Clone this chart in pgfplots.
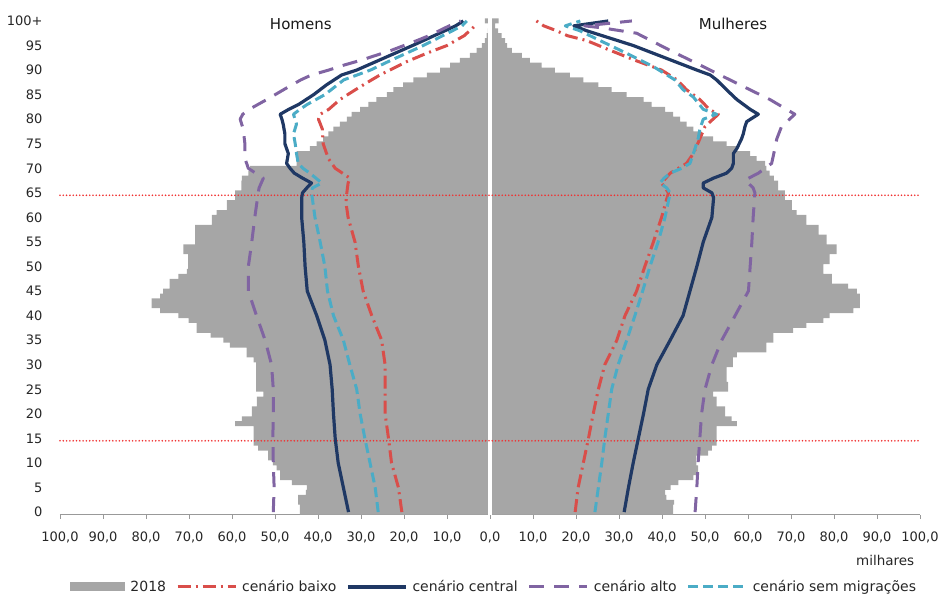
\documentclass[border=0pt]{standalone}
\usepackage{pgfplots}
\pgfplotsset{compat=1.18}
\usepackage{pgfplotstable}
\usepackage{fontspec}
\setmainfont{DejaVu Sans}
\definecolor{bargray}{HTML}{A6A6A6}
\definecolor{cbaixo}{HTML}{D94E4A}
\definecolor{ccentral}{HTML}{1F3864}
\definecolor{calto}{HTML}{8064A2}
\definecolor{csem}{HTML}{4BACC6}
\definecolor{refred}{HTML}{F03030}

\pgfplotstableread{
age m w
0 -44.2 42.6
1 -44.2 42.6
2 -44.6 42.8
3 -44.6 41.0
4 -42.8 40.7
5 -42.6 42.0
6 -46.1 43.8
7 -48.8 47.3
8 -48.8 48.4
9 -49.6 48.4
10 -50.5 48.0
11 -51.6 48.0
12 -51.6 50.7
13 -53.9 51.6
14 -55.0 52.7
15 -55.0 52.7
16 -55.0 52.7
17 -55.0 52.7
18 -59.3 57.4
19 -57.7 56.2
20 -55.4 54.7
21 -55.4 54.7
22 -54.2 52.7
23 -54.2 52.7
24 -52.7 51.9
25 -54.4 55.4
26 -54.4 55.4
27 -54.4 55.0
28 -54.4 55.0
29 -54.4 55.0
30 -54.4 56.5
31 -55.0 56.5
32 -56.6 57.4
33 -56.6 64.3
34 -60.5 64.3
35 -62.0 65.9
36 -65.0 65.9
37 -68.2 70.5
38 -68.2 73.6
39 -70.1 77.5
40 -72.5 79.0
41 -76.7 84.5
42 -78.7 86.0
43 -78.7 86.0
44 -76.7 86.0
45 -76.0 85.3
46 -74.5 83.3
47 -74.5 79.5
48 -72.5 79.5
49 -70.5 77.5
50 -70.2 77.5
51 -70.2 79.0
52 -70.2 79.0
53 -71.3 80.6
54 -71.3 80.6
55 -68.6 78.3
56 -68.6 78.3
57 -68.6 76.4
58 -68.6 76.4
59 -64.7 73.6
60 -64.7 73.6
61 -63.6 71.3
62 -61.2 70.2
63 -61.2 70.2
64 -59.3 68.6
65 -59.3 68.6
66 -57.8 67.0
67 -57.8 67.0
68 -57.7 66.0
69 -56.2 65.0
70 -55.8 64.3
71 -45.0 64.0
72 -45.0 62.0
73 -45.0 60.5
74 -41.9 57.4
75 -40.3 55.0
76 -38.8 51.9
77 -37.6 49.2
78 -36.4 47.3
79 -34.9 45.7
80 -33.3 44.2
81 -32.2 42.6
82 -30.2 40.7
83 -28.3 37.6
84 -26.4 35.7
85 -24.0 31.8
86 -22.5 28.3
87 -20.2 25.2
88 -17.8 21.7
89 -14.7 18.6
90 -11.6 15.1
91 -9.3 12.0
92 -7.0 9.3
93 -4.7 7.4
94 -3.1 5.1
95 -1.9 4.0
96 -1.2 3.5
97 -0.8 2.7
98 -0.5 1.9
99 -0.3 1.2
100 -1.2 2.0
}\pyr

\begin{document}
\begin{tikzpicture}
\path[use as bounding box] (-60pt,-82.5pt) rectangle (882pt,514.5pt);
\begin{axis}[
  at={(0pt,0pt)}, anchor=south west,
  width=860pt, height=496pt, scale only axis,
  xmin=-100, xmax=100, ymin=-0.5, ymax=100.5,
  clip=false,
  axis lines*=left,
  y axis line style={draw=none},
  x axis line style={draw=black!40, line width=0.8pt},
  xtick={-100,-90,...,100},
  xticklabels={{100,0},{90,0},{80,0},{70,0},{60,0},{50,0},{40,0},{30,0},{20,0},{10,0},{0,0},{10,0},{20,0},{30,0},{40,0},{50,0},{60,0},{70,0},{80,0},{90,0},{100,0}},
  ytick={0,5,...,100},
  yticklabels={0,5,10,15,20,25,30,35,40,45,50,55,60,65,70,75,80,85,90,95,100+},
  ytick style={draw=none},
  xtick style={draw=black!40, line width=0.8pt},
  tick align=outside,
  major tick length=4pt,
  xticklabel style={font=\fontsize{13}{15}\selectfont, text=black!85, yshift=-10pt},
  yticklabel style={font=\fontsize{13}{15}\selectfont, text=black!85, xshift=-10pt},
  legend columns=5,
  legend style={draw=none, fill=none, at={(0.505,-0.146)}, anchor=center,
    font=\fontsize{14}{16}\selectfont, text=black!85,
    /tikz/every even column/.append style={column sep=8pt}},
  legend image code/.code={\draw[#1] (0pt,0pt) -- (58pt,0pt); \path (61pt,0pt);},
]
\addplot[xbar, bar width=1, bar shift=0pt, draw=none, fill=bargray,
  legend image code/.code={\fill[bargray] (0pt,-4.5pt) rectangle (55pt,4.5pt); \path (58pt,0pt);}]
  table[x=m, y=age]{\pyr};
\addlegendentry{2018}
\addplot[xbar, bar width=1, bar shift=0pt, draw=none, fill=bargray, forget plot]
  table[x=w, y=age]{\pyr};
\addplot[white, line width=3.5pt, forget plot] coordinates {(0,-0.5) (0,100.7)};
\addplot[refred, line width=1.8pt, line cap=round, dash pattern=on 0pt off 3.3pt, forget plot]
  coordinates {(-100,64.5) (100,64.5)};
\addplot[refred, line width=1.8pt, line cap=round, dash pattern=on 0pt off 3.3pt, forget plot]
  coordinates {(-100,14.5) (100,14.5)};

% cenario baixo
\addplot[cbaixo, line width=3pt, line join=round, dash pattern=on 13pt off 5pt on 2pt off 5pt]
  coordinates {(-20.5,0) (-21.3,5) (-22.9,10) (-23.6,15) (-24.4,20) (-24.4,25) (-24.4,30)
  (-25.2,35) (-27.5,40) (-29.5,45) (-30.6,50) (-31.4,55) (-33.0,60) (-33.5,63) (-33.3,65)
  (-33.0,67) (-32.6,68) (-36.0,70) (-37.6,72) (-38.8,75) (-39.0,78) (-39.9,80) (-39.5,81)
  (-37.5,82) (-34.9,84) (-30.2,86.6) (-25.6,89) (-19.4,91.7) (-14.5,93.5) (-10.0,95) (-6.0,97) (-3.5,99)};
\addlegendentry{cenário baixo}
\addplot[cbaixo, line width=3pt, line join=round, dash pattern=on 13pt off 5pt on 2pt off 5pt, forget plot]
  coordinates {(19.8,0) (20.5,5) (21.7,10) (22.9,15) (24.0,20) (25.2,25) (26.7,30) (29.5,35)
  (31.4,40) (34.1,45) (36.0,50) (38.0,55) (39.9,60) (41.5,65) (39.9,67) (41.9,69) (45.7,71)
  (47.3,73) (48.8,76) (50.0,78.5) (53.1,81) (51.0,82) (48.8,84) (45.7,86) (43.5,88) (39.9,90)
  (33.7,92) (28.0,94) (22.5,96) (18.0,97) (15.5,98) (12.5,99) (10.8,100)};

% cenario central
\addplot[ccentral, line width=3.2pt, line join=round]
  coordinates {(-32.9,0) (-34.1,5) (-35.3,10) (-36.0,15) (-36.4,20) (-36.7,25) (-37.2,30)
  (-38.4,35) (-40.3,40) (-42.5,45) (-43.0,50) (-43.3,55) (-43.8,60) (-43.8,64) (-43.6,65)
  (-42.6,66) (-41.5,67) (-43.6,68) (-45.5,69) (-46.5,70) (-47.3,71) (-46.9,73) (-47.7,75)
  (-47.7,77) (-48.1,79) (-48.4,80) (-48.8,81) (-46.8,82) (-44.5,83) (-41.0,85) (-38.0,87)
  (-34.5,89) (-31.0,90) (-25.8,92) (-18.0,95) (-13.0,97) (-8.0,99) (-6.2,100)};
\addlegendentry{cenário central}
\addplot[ccentral, line width=3.2pt, line join=round, forget plot]
  coordinates {(31.2,0) (32.2,5) (33.3,10) (34.5,15) (35.7,20) (36.8,25) (38.8,30) (41.9,35)
  (44.9,40) (46.5,45) (48.1,50) (49.6,55) (51.6,60) (52.0,64) (51.6,65) (49.6,66) (49.6,67)
  (52.0,68) (55.0,69) (56.2,70) (56.6,71) (56.6,73) (57.4,74) (58.5,76) (58.9,77) (59.3,78.5)
  (59.7,79.5) (62.4,81) (60.5,82) (57.4,84) (55.0,86) (52.7,88) (51.2,89) (48.1,90)
  (33.3,95) (22.5,98) (19.5,99) (27.5,100)};

% cenario alto
\addplot[calto, line width=3pt, line join=round, dash pattern=on 15pt off 10pt]
  coordinates {(-50.4,0) (-50.2,5) (-50.4,10) (-50.5,15) (-50.4,20) (-50.4,25) (-50.8,30)
  (-52.3,35) (-54.3,40) (-56.2,45) (-56.2,50) (-55.4,55) (-54.7,60) (-53.9,65) (-53.7,66)
  (-52.7,68) (-54.5,69) (-56.2,70) (-57.0,72) (-57.0,75) (-57.4,78) (-58.1,80) (-57.5,81)
  (-56.0,82) (-51.9,84) (-48.0,86) (-44.0,88) (-41.5,89) (-37.5,90) (-34.0,91) (-30.0,92)
  (-26.5,93) (-23.0,94) (-20.0,95) (-17.0,96) (-14.2,97) (-11.8,98) (-9.5,99) (-6.8,100)};
\addlegendentry{cenário alto}
\addplot[calto, line width=3pt, line join=round, dash pattern=on 15pt off 10pt, forget plot]
  coordinates {(47.7,0) (48.1,5) (48.4,10) (48.8,15) (49.2,20) (50.0,25) (51.6,30) (53.9,35)
  (57.0,40) (60.1,45) (60.5,50) (60.9,55) (61.2,60) (61.6,65) (61.2,66) (59.3,67.6) (62.4,69)
  (65.5,71) (66.0,73) (66.7,76) (67.8,78.5) (70.9,81) (65.1,84) (57.4,87.3) (49.6,90.7)
  (41.9,94) (34.1,97.5) (26.0,98.6) (22.0,99) (33.0,100)};

% cenario sem migracoes
\addplot[csem, line width=3pt, line join=round, dash pattern=on 10pt off 5pt]
  coordinates {(-26.0,0) (-26.7,5) (-27.9,10) (-29.1,15) (-30.2,20) (-31.0,25) (-32.6,30)
  (-34.1,35) (-36.4,40) (-37.8,45) (-38.4,50) (-39.5,55) (-40.7,60) (-41.5,65) (-41.3,66)
  (-39.1,67) (-40.5,68) (-41.9,69) (-43.5,70) (-44.6,71) (-45.0,73) (-45.3,75) (-45.7,77)
  (-45.0,79) (-45.7,81) (-44.2,82) (-42.5,83) (-38.4,85) (-34.0,88) (-27.8,90) (-23.0,92)
  (-15.5,95) (-11.0,97) (-6.5,99) (-5.4,100)};
\addlegendentry{cenário sem migrações}
\addplot[csem, line width=3pt, line join=round, dash pattern=on 10pt off 5pt, forget plot]
  coordinates {(24.4,0) (25.2,5) (26.0,10) (26.7,15) (27.5,20) (28.3,25) (29.8,30) (31.8,35)
  (33.7,40) (35.5,45) (37.2,50) (39.1,55) (40.7,60) (41.9,65) (41.1,66) (39.5,67) (40.5,68)
  (41.9,69) (44.6,70) (46.5,71) (47.3,73) (48.4,76) (48.8,78) (49.6,80) (52.7,81) (49.6,82)
  (47.3,84.5) (44.9,86) (43.0,88) (38.0,90.7) (31.8,93.4) (25.6,96) (20.9,98) (17.5,99) (21.0,100)};

\node[font=\fontsize{15}{18}\selectfont, text=black!90] at (axis cs:-44,99.3) {Homens};
\node[font=\fontsize{15}{18}\selectfont, text=black!90] at (axis cs:56.5,99.3) {Mulheres};
\node[font=\fontsize{13.5}{16}\selectfont, text=black!85] at (axis cs:91.9,-9.8) {milhares};
\end{axis}
\end{tikzpicture}
\end{document}
